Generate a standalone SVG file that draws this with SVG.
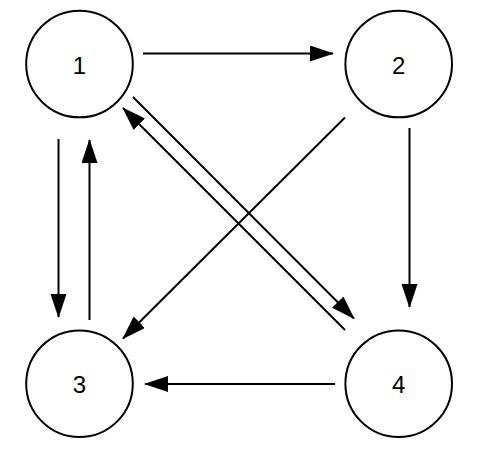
<svg xmlns="http://www.w3.org/2000/svg" width="482" height="462" viewBox="0 0 482 462">
<style>
.node circle{fill:#fff;stroke:#000;stroke-width:2}
.node text{font-family:"Liberation Sans",Arial,sans-serif;font-size:24px;fill:#000;text-anchor:middle}
.edge{stroke:#000;stroke-width:2;fill:none;marker-end:url(#arr)}
</style>
<defs>
<marker id="arr" markerUnits="userSpaceOnUse" markerWidth="26" markerHeight="18" refX="23" refY="8" orient="auto">
<path d="M0,0 L24,8 L0,16 z" fill="#000"/>
</marker>
</defs>
<rect width="482" height="462" fill="#fff"/>
<g id="connectors">
<line class="edge" x1="143" y1="53.5" x2="333" y2="53.5"/>
<line class="edge" x1="58.5" y1="139" x2="58.5" y2="317"/>
<line class="edge" x1="89.5" y1="320" x2="89.5" y2="140"/>
<line class="edge" x1="409.5" y1="128" x2="409.5" y2="307"/>
<line class="edge" x1="335" y1="384" x2="145" y2="384"/>
<line class="edge" x1="345" y1="117.5" x2="123" y2="338.5"/>
<line class="edge" x1="133" y1="97" x2="354" y2="318.5"/>
<line class="edge" x1="345" y1="330" x2="123" y2="108"/>
</g>
<g id="node1" class="node"><circle cx="79.5" cy="64" r="53.3"/><text x="79.5" y="74">1</text></g>
<g id="node2" class="node"><circle cx="398.7" cy="64" r="53.3"/><text x="398.7" y="74">2</text></g>
<g id="node3" class="node"><circle cx="79.5" cy="383.7" r="53.3"/><text x="79.5" y="393">3</text></g>
<g id="node4" class="node"><circle cx="398.7" cy="383.7" r="53.3"/><text x="398.7" y="393">4</text></g>
</svg>
